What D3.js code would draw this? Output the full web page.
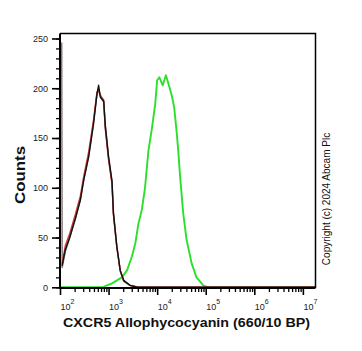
<!DOCTYPE html>
<html>
<head>
<meta charset="utf-8">
<script src="https://cdn.jsdelivr.net/npm/d3@7"></script>
<style>
  body { margin: 0; background: #fff; }
  text { font-family: Arial, "Liberation Sans", sans-serif; }
</style>
</head>
<body>
<div id="chart"></div>
<script>
// log10 of fluorescence intensity for the control histograms
const ctrlLog = [2.035, 2.045, 2.11, 2.2, 2.32, 2.42, 2.49, 2.59, 2.69, 2.76, 2.795, 2.83, 2.9, 2.93,
                 3.0, 3.07, 3.1, 3.17, 3.24, 3.31, 3.44, 3.6, 4.5, 5.5, 6.5, 7.26];
const blackCounts = [22, 22, 38, 50, 70, 88, 108, 131, 164, 194, 203, 191, 187, 164,
                     131, 107, 75, 41, 17, 7, 2, 0, 0, 0, 0, 0];
const redCounts   = [24, 24, 42, 54, 74, 92, 112, 136, 168, 196, 198, 193, 188, 160,
                     128, 104, 73, 40, 17, 7, 2, 0, 0, 0, 0, 0];
const greyCounts  = [246, 20, 36, 50, 69, 88, 109, 132, 166, 193, 199, 193, 186, 163,
                     130, 106, 74, 41, 16, 6, 2, 0, 0, 0, 0, 0];

// CXCR5 stained sample
const greenLog = [2.0, 2.87, 3.07, 3.275, 3.38, 3.48, 3.55, 3.615, 3.685, 3.75, 3.82, 3.89, 3.96,
                  4.0, 4.045, 4.115, 4.18, 4.23, 4.30, 4.35, 4.40, 4.435, 4.47, 4.535, 4.605,
                  4.71, 4.81, 4.95, 5.05, 7.26];
const greenCounts = [0, 0, 4, 10, 17, 31, 44, 64, 78, 100, 137, 159, 184,
                     208, 211, 203, 213, 205, 193, 181, 157, 137, 113, 75, 48,
                     24, 10, 2, 0, 0];

const yMajor = [0, 50, 100, 150, 200, 250];
const xDecades = [2, 3, 4, 5, 6, 7];

const W = 362, H = 351;
const margin = {top: 33.5, right: 46.5, bottom: 63, left: 60};
const width = W - margin.left - margin.right;
const height = H - margin.top - margin.bottom;

const svg = d3.select("#chart").append("svg")
    .attr("width", W)
    .attr("height", H);

const g = svg.append("g")
    .attr("transform", `translate(${margin.left},${margin.top})`);

const x = d3.scaleLog()
    .domain([100, Math.pow(10, 7.26)])
    .range([0, width]);

const y = d3.scaleLinear()
    .domain([-0.7, 255])
    .range([height, 0]);

g.append("clipPath").attr("id", "clip")
    .append("rect").attr("width", width).attr("height", height);

const line = d3.line()
    .x(d => x(Math.pow(10, d[0])))
    .y(d => y(d[1]));

function series(logs, counts) {
    return logs.map((l, i) => [l, counts[i]]);
}

const curves = [
    {data: series(greenLog, greenCounts), color: "#2be02b", w: 1.9},
    {data: series(ctrlLog, greyCounts), color: "#8a7a7a", w: 1.5},
    {data: series(ctrlLog, redCounts), color: "#d23a3a", w: 1.4},
    {data: series(ctrlLog, blackCounts), color: "#111", w: 1.4}
];

g.append("g").attr("clip-path", "url(#clip)")
    .selectAll("path")
    .data(curves)
    .enter()
    .append("path")
    .attr("d", d => line(d.data))
    .attr("fill", "none")
    .attr("stroke", d => d.color)
    .attr("stroke-width", d => d.w)
    .attr("stroke-linejoin", "round");

// frame top + right
g.append("path")
    .attr("d", `M0,0H${width}V${height}`)
    .attr("fill", "none")
    .attr("stroke", "#000")
    .attr("stroke-width", 1.5);

// y axis: minor ticks every 10, majors every 50
g.append("g")
    .call(d3.axisLeft(y).tickValues(d3.range(0, 256, 10)).tickSize(4).tickFormat(""))
    .call(a => a.select(".domain").remove())
    .selectAll("line").attr("stroke-width", 1.3);

const yAxis = g.append("g")
    .call(d3.axisLeft(y).tickValues(yMajor).tickSize(8).tickPadding(4))
    .call(a => a.select(".domain").remove());
yAxis.selectAll("line").attr("stroke-width", 1.6);
yAxis.selectAll("text").attr("font-size", 9).attr("fill", "#222");

g.append("line")
    .attr("x1", 0).attr("x2", 0)
    .attr("y1", 0).attr("y2", height + 1)
    .attr("stroke", "#000").attr("stroke-width", 2);

// x axis: decades + minor ticks 2..9
const minorX = [];
xDecades.forEach(e => {
    for (let k = 2; k <= 9; k++) {
        const v = k * Math.pow(10, e);
        if (v <= x.domain()[1]) minorX.push(v);
    }
});

g.append("g")
    .attr("transform", `translate(0,${height})`)
    .call(d3.axisBottom(x).tickValues(minorX).tickSize(4).tickFormat(""))
    .call(a => a.select(".domain").remove())
    .selectAll("line").attr("stroke-width", 1.3);

const xAxis = g.append("g")
    .attr("transform", `translate(0,${height})`)
    .call(d3.axisBottom(x).tickValues(xDecades.map(e => Math.pow(10, e))).tickSize(7).tickFormat(""))
    .call(a => a.select(".domain").remove());
xAxis.selectAll("line").attr("stroke-width", 1.6);

xAxis.selectAll(".tick").append("text")
    .attr("x", 7)
    .attr("y", 22)
    .attr("text-anchor", "middle")
    .attr("fill", "#222")
    .attr("font-size", 9)
    .each(function(d) {
        const t = d3.select(this);
        t.append("tspan").text("10");
        t.append("tspan").attr("font-size", 7).attr("dy", -6).text(Math.round(Math.log10(d)));
    });

g.append("line")
    .attr("x1", -1).attr("x2", width)
    .attr("y1", height).attr("y2", height)
    .attr("stroke", "#000").attr("stroke-width", 2);

// titles
svg.append("text")
    .attr("x", 186.5)
    .attr("y", 327)
    .attr("text-anchor", "middle")
    .attr("font-size", 13.5)
    .attr("font-weight", "bold")
    .attr("fill", "#111")
    .attr("textLength", 247)
    .attr("lengthAdjust", "spacingAndGlyphs")
    .text("CXCR5 Allophycocyanin (660/10 BP)");

svg.append("text")
    .attr("transform", "translate(24.5,175) rotate(-90)")
    .attr("text-anchor", "middle")
    .attr("font-size", 14.5)
    .attr("font-weight", "bold")
    .attr("fill", "#111")
    .attr("textLength", 58)
    .attr("lengthAdjust", "spacingAndGlyphs")
    .text("Counts");

svg.append("text")
    .attr("transform", "translate(329.5,199) rotate(-90)")
    .attr("text-anchor", "middle")
    .attr("font-size", 10)
    .attr("fill", "#111")
    .text("Copyright (c) 2024 Abcam Plc");
</script>
</body>
</html>
